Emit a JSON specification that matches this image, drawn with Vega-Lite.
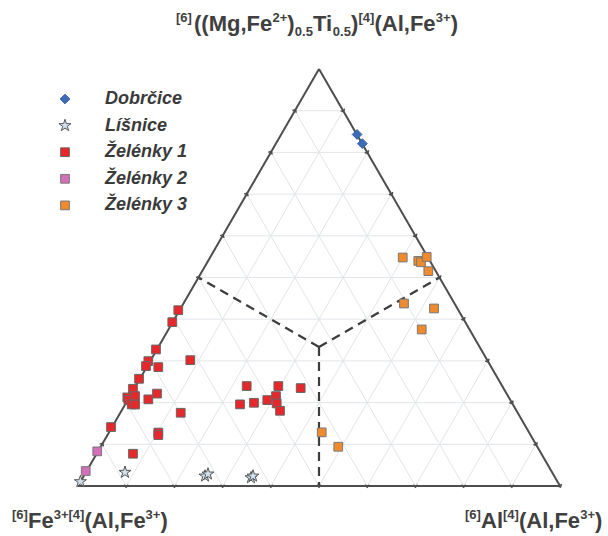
{
  "$schema": "https://vega.github.io/schema/vega-lite/v6.json",
  "width": 482,
  "height": 417,
  "autosize": {"type": "none"},
  "padding": {"left": 78, "top": 69, "right": 48, "bottom": 50},
  "background": "white",
  "config": {"view": {"stroke": null}},
  "datasets": {
    "grid": [
      {"x": 5, "y": 8.66, "x2": 95, "y2": 8.66},
      {"x": 10, "y": 17.32, "x2": 90, "y2": 17.32},
      {"x": 15, "y": 25.98, "x2": 85, "y2": 25.98},
      {"x": 20, "y": 34.64, "x2": 80, "y2": 34.64},
      {"x": 25, "y": 43.3, "x2": 75, "y2": 43.3},
      {"x": 30, "y": 51.96, "x2": 70, "y2": 51.96},
      {"x": 35, "y": 60.62, "x2": 65, "y2": 60.62},
      {"x": 40, "y": 69.28, "x2": 60, "y2": 69.28},
      {"x": 45, "y": 77.94, "x2": 55, "y2": 77.94},
      {"x": 10, "y": 0, "x2": 55, "y2": 77.94},
      {"x": 20, "y": 0, "x2": 60, "y2": 69.28},
      {"x": 30, "y": 0, "x2": 65, "y2": 60.62},
      {"x": 40, "y": 0, "x2": 70, "y2": 51.96},
      {"x": 50, "y": 0, "x2": 75, "y2": 43.3},
      {"x": 60, "y": 0, "x2": 80, "y2": 34.64},
      {"x": 70, "y": 0, "x2": 85, "y2": 25.98},
      {"x": 80, "y": 0, "x2": 90, "y2": 17.32},
      {"x": 90, "y": 0, "x2": 95, "y2": 8.66},
      {"x": 10, "y": 0, "x2": 5, "y2": 8.66},
      {"x": 20, "y": 0, "x2": 10, "y2": 17.32},
      {"x": 30, "y": 0, "x2": 15, "y2": 25.98},
      {"x": 40, "y": 0, "x2": 20, "y2": 34.64},
      {"x": 50, "y": 0, "x2": 25, "y2": 43.3},
      {"x": 60, "y": 0, "x2": 30, "y2": 51.96},
      {"x": 70, "y": 0, "x2": 35, "y2": 60.62},
      {"x": 80, "y": 0, "x2": 40, "y2": 69.28},
      {"x": 90, "y": 0, "x2": 45, "y2": 77.94}
    ],
    "edges": [
      {"x": 0, "y": 0, "x2": 100, "y2": 0},
      {"x": 0, "y": 0, "x2": 50, "y2": 86.6},
      {"x": 50, "y": 86.6, "x2": 100, "y2": 0}
    ],
    "dash": [
      {"x": 50, "y": 28.87, "x2": 50, "y2": 0},
      {"x": 50, "y": 28.87, "x2": 25, "y2": 43.3},
      {"x": 50, "y": 28.87, "x2": 75, "y2": 43.3}
    ],
    "ticks": [
      {"side": "b", "x": 10, "y": 0}, {"side": "b", "x": 20, "y": 0}, {"side": "b", "x": 30, "y": 0},
      {"side": "b", "x": 40, "y": 0}, {"side": "b", "x": 50, "y": 0}, {"side": "b", "x": 60, "y": 0},
      {"side": "b", "x": 70, "y": 0}, {"side": "b", "x": 80, "y": 0}, {"side": "b", "x": 90, "y": 0},
      {"side": "l", "x": 5, "y": 8.66}, {"side": "l", "x": 10, "y": 17.32}, {"side": "l", "x": 15, "y": 25.98},
      {"side": "l", "x": 20, "y": 34.64}, {"side": "l", "x": 25, "y": 43.3}, {"side": "l", "x": 30, "y": 51.96},
      {"side": "l", "x": 35, "y": 60.62}, {"side": "l", "x": 40, "y": 69.28}, {"side": "l", "x": 45, "y": 77.94},
      {"side": "r", "x": 95, "y": 8.66}, {"side": "r", "x": 90, "y": 17.32}, {"side": "r", "x": 85, "y": 25.98},
      {"side": "r", "x": 80, "y": 34.64}, {"side": "r", "x": 75, "y": 43.3}, {"side": "r", "x": 70, "y": 51.96},
      {"side": "r", "x": 65, "y": 60.62}, {"side": "r", "x": 60, "y": 69.28}, {"side": "r", "x": 55, "y": 77.94},
      {"side": "r", "x": 100, "y": 0}
    ],
    "pts": [
      {"group": "Dobrčice", "x": 57.9, "y": 73.0},
      {"group": "Dobrčice", "x": 59.0, "y": 71.1},
      {"group": "Líšnice", "x": 0.5, "y": 0.9},
      {"group": "Líšnice", "x": 9.75, "y": 2.84},
      {"group": "Líšnice", "x": 26.35, "y": 2.07},
      {"group": "Líšnice", "x": 26.97, "y": 2.49},
      {"group": "Líšnice", "x": 35.89, "y": 1.72},
      {"group": "Líšnice", "x": 36.31, "y": 2.07},
      {"group": "Želénky 1", "x": 20.81, "y": 36.51},
      {"group": "Želénky 1", "x": 19.56, "y": 34.02},
      {"group": "Želénky 1", "x": 16.18, "y": 28.36},
      {"group": "Želénky 1", "x": 14.59, "y": 25.93},
      {"group": "Želénky 1", "x": 14.11, "y": 24.9},
      {"group": "Želénky 1", "x": 16.66, "y": 24.69},
      {"group": "Želénky 1", "x": 23.3, "y": 26.14},
      {"group": "Želénky 1", "x": 12.66, "y": 22.26},
      {"group": "Želénky 1", "x": 11.41, "y": 20.19},
      {"group": "Želénky 1", "x": 10.23, "y": 18.4},
      {"group": "Želénky 1", "x": 10.48, "y": 17.84},
      {"group": "Želénky 1", "x": 11.83, "y": 18.67},
      {"group": "Želénky 1", "x": 11.14, "y": 16.95},
      {"group": "Želénky 1", "x": 11.83, "y": 16.91},
      {"group": "Želénky 1", "x": 14.59, "y": 17.99},
      {"group": "Želénky 1", "x": 16.39, "y": 19.19},
      {"group": "Želénky 1", "x": 21.31, "y": 15.21},
      {"group": "Želénky 1", "x": 6.85, "y": 12.24},
      {"group": "Želénky 1", "x": 16.66, "y": 11.1},
      {"group": "Želénky 1", "x": 16.66, "y": 10.58},
      {"group": "Želénky 1", "x": 11.41, "y": 6.7},
      {"group": "Želénky 1", "x": 35.0, "y": 20.75},
      {"group": "Želénky 1", "x": 41.56, "y": 20.75},
      {"group": "Želénky 1", "x": 46.2, "y": 20.33},
      {"group": "Želénky 1", "x": 41.08, "y": 18.67},
      {"group": "Želénky 1", "x": 39.27, "y": 17.84},
      {"group": "Želénky 1", "x": 36.51, "y": 17.28},
      {"group": "Želénky 1", "x": 33.61, "y": 16.95},
      {"group": "Želénky 1", "x": 41.22, "y": 17.16},
      {"group": "Želénky 1", "x": 41.91, "y": 15.62},
      {"group": "Želénky 2", "x": 4.0, "y": 7.2},
      {"group": "Želénky 2", "x": 1.6, "y": 3.11},
      {"group": "Želénky 3", "x": 67.37, "y": 47.45},
      {"group": "Želénky 3", "x": 70.6, "y": 46.74},
      {"group": "Želénky 3", "x": 71.16, "y": 46.47},
      {"group": "Želénky 3", "x": 72.34, "y": 47.57},
      {"group": "Želénky 3", "x": 72.68, "y": 44.61},
      {"group": "Želénky 3", "x": 67.63, "y": 37.9},
      {"group": "Želénky 3", "x": 73.86, "y": 36.87},
      {"group": "Želénky 3", "x": 71.31, "y": 32.51},
      {"group": "Želénky 3", "x": 50.56, "y": 11.14},
      {"group": "Želénky 3", "x": 54.0, "y": 8.15}
    ],
    "labels": [
      {"role": "sup", "text": "[6]", "x": 20.33, "y": 94.4},
      {"role": "main", "text": "((Mg,Fe", "x": 24.07, "y": 94.4},
      {"role": "sup", "text": "2+", "x": 40.35, "y": 94.4},
      {"role": "main", "text": ")", "x": 43.42, "y": 94.4},
      {"role": "sub", "text": "0.5", "x": 44.98, "y": 94.4},
      {"role": "main", "text": "Ti", "x": 48.76, "y": 94.4},
      {"role": "sub", "text": "0.5", "x": 52.86, "y": 94.4},
      {"role": "main", "text": ")", "x": 56.64, "y": 94.4},
      {"role": "sup", "text": "[4]", "x": 58.2, "y": 94.4},
      {"role": "main", "text": "(Al,Fe", "x": 61.51, "y": 94.4},
      {"role": "sup", "text": "3+", "x": 74.23, "y": 94.4},
      {"role": "main", "text": ")", "x": 77.34, "y": 94.4},
      {"role": "sup", "text": "[6]", "x": -13.69, "y": -8.71},
      {"role": "main", "text": "Fe", "x": -10.37, "y": -8.71},
      {"role": "sup", "text": "3+[4]", "x": -5.04, "y": -8.71},
      {"role": "main", "text": "(Al,Fe", "x": 1.35, "y": -8.71},
      {"role": "sup", "text": "3+", "x": 14.02, "y": -8.71},
      {"role": "main", "text": ")", "x": 17.12, "y": -8.71},
      {"role": "sup", "text": "[6]", "x": 80.29, "y": -8.71},
      {"role": "main", "text": "Al", "x": 83.61, "y": -8.71},
      {"role": "sup", "text": "[4]", "x": 88.17, "y": -8.71},
      {"role": "main", "text": "(Al,Fe", "x": 91.49, "y": -8.71},
      {"role": "sup", "text": "3+", "x": 104.19, "y": -8.71},
      {"role": "main", "text": ")", "x": 107.26, "y": -8.71}
    ]
  },
  "encoding": {
    "x": {"field": "x", "type": "quantitative", "scale": {"domain": [0, 100], "nice": false, "zero": false}, "axis": null},
    "y": {"field": "y", "type": "quantitative", "scale": {"domain": [0, 86.6], "nice": false, "zero": false}, "axis": null}
  },
  "layer": [
    {
      "data": {"name": "grid"},
      "mark": {"type": "rule", "color": "#e2e5e9", "strokeWidth": 1},
      "encoding": {"x2": {"field": "x2"}, "y2": {"field": "y2"}}
    },
    {
      "data": {"name": "dash"},
      "mark": {"type": "rule", "color": "#3d3d3d", "strokeWidth": 2.2, "strokeDash": [9, 6]},
      "encoding": {"x2": {"field": "x2"}, "y2": {"field": "y2"}}
    },
    {
      "data": {"name": "edges"},
      "mark": {"type": "rule", "color": "#4d4d4d", "strokeWidth": 2},
      "encoding": {"x2": {"field": "x2"}, "y2": {"field": "y2"}}
    },
    {
      "data": {"name": "ticks"},
      "transform": [{"filter": "datum.side === 'b'"}],
      "mark": {"type": "point", "shape": "M-0.5,-1L0.5,0L-0.5,1", "filled": false, "stroke": "#4d4d4d", "strokeWidth": 1.5, "size": 20, "angle": 90, "opacity": 1}
    },
    {
      "data": {"name": "ticks"},
      "transform": [{"filter": "datum.side === 'l'"}],
      "mark": {"type": "point", "shape": "M-0.5,-1L0.5,0L-0.5,1", "filled": false, "stroke": "#4d4d4d", "strokeWidth": 1.5, "size": 20, "angle": -60, "opacity": 1}
    },
    {
      "data": {"name": "ticks"},
      "transform": [{"filter": "datum.side === 'r'"}],
      "mark": {"type": "point", "shape": "M-0.5,-1L0.5,0L-0.5,1", "filled": false, "stroke": "#4d4d4d", "strokeWidth": 1.5, "size": 20, "angle": 60, "opacity": 1}
    },
    {
      "data": {"name": "pts"},
      "mark": {"type": "point", "filled": true, "opacity": 1, "strokeWidth": 1},
      "encoding": {
        "color": {
          "field": "group", "type": "nominal",
          "scale": {"domain": ["Dobrčice", "Líšnice", "Želénky 1", "Želénky 2", "Želénky 3"], "range": ["#3c6bb8", "#cfe1ee", "#e8272b", "#d46fb9", "#f08a2c"]},
          "legend": {"title": null, "orient": "none", "legendX": -22, "legendY": 21, "labelFont": "Liberation Sans", "labelFontSize": 18, "labelFontWeight": "bold", "labelFontStyle": "italic", "labelColor": "#3a3a3a", "rowPadding": 8.6, "labelOffset": 31, "symbolStrokeWidth": 1}
        },
        "shape": {
          "field": "group", "type": "nominal",
          "scale": {"domain": ["Dobrčice", "Líšnice", "Želénky 1", "Želénky 2", "Želénky 3"], "range": ["diamond", "M0,-1L0.2245,-0.309L0.951,-0.309L0.363,0.118L0.588,0.809L0,0.382L-0.588,0.809L-0.363,0.118L-0.951,-0.309L-0.2245,-0.309Z", "square", "square", "square"]},
          "legend": {"title": null, "orient": "none", "legendX": -22, "legendY": 21, "labelFont": "Liberation Sans", "labelFontSize": 18, "labelFontWeight": "bold", "labelFontStyle": "italic", "labelColor": "#3a3a3a", "rowPadding": 8.6, "labelOffset": 31, "symbolStrokeWidth": 1}
        },
        "stroke": {
          "field": "group", "type": "nominal",
          "scale": {"domain": ["Dobrčice", "Líšnice", "Želénky 1", "Želénky 2", "Želénky 3"], "range": ["#3a62a8", "#555555", "#666666", "#777777", "#777777"]},
          "legend": {"title": null, "orient": "none", "legendX": -22, "legendY": 21, "labelFont": "Liberation Sans", "labelFontSize": 18, "labelFontWeight": "bold", "labelFontStyle": "italic", "labelColor": "#3a3a3a", "rowPadding": 8.6, "labelOffset": 31, "symbolStrokeWidth": 1}
        },
        "size": {
          "field": "group", "type": "nominal",
          "scale": {"type": "ordinal", "domain": ["Dobrčice", "Líšnice", "Želénky 1", "Želénky 2", "Želénky 3"], "range": [95, 160, 76, 76, 76]},
          "legend": {"title": null, "orient": "none", "legendX": -22, "legendY": 21, "labelFont": "Liberation Sans", "labelFontSize": 18, "labelFontWeight": "bold", "labelFontStyle": "italic", "labelColor": "#3a3a3a", "rowPadding": 8.6, "labelOffset": 31, "symbolStrokeWidth": 1}
        }
      }
    },
    {
      "data": {"name": "labels"},
      "transform": [{"filter": "datum.role === 'main'"}],
      "mark": {"type": "text", "align": "left", "baseline": "alphabetic", "font": "Liberation Sans", "fontWeight": "bold", "fontSize": 22, "color": "#404040"},
      "encoding": {"text": {"field": "text"}}
    },
    {
      "data": {"name": "labels"},
      "transform": [{"filter": "datum.role === 'sup'"}],
      "mark": {"type": "text", "align": "left", "baseline": "alphabetic", "font": "Liberation Sans", "fontWeight": "bold", "fontSize": 13, "dy": -9, "color": "#404040"},
      "encoding": {"text": {"field": "text"}}
    },
    {
      "data": {"name": "labels"},
      "transform": [{"filter": "datum.role === 'sub'"}],
      "mark": {"type": "text", "align": "left", "baseline": "alphabetic", "font": "Liberation Sans", "fontWeight": "bold", "fontSize": 13, "dy": 5, "color": "#404040"},
      "encoding": {"text": {"field": "text"}}
    }
  ]
}
